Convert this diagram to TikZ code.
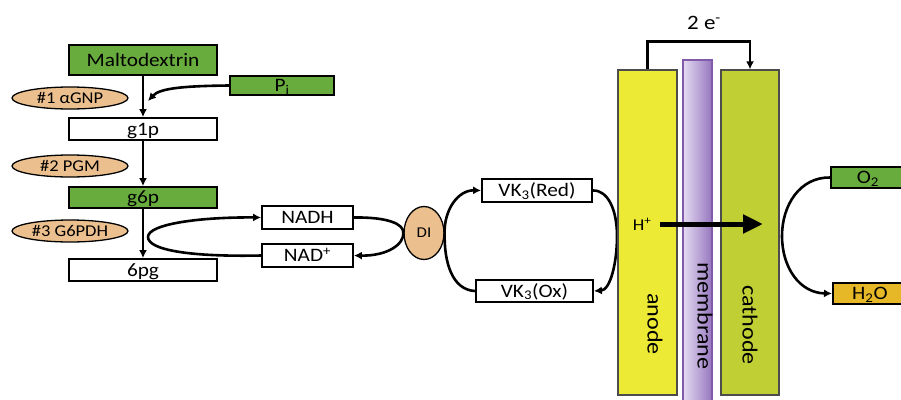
\documentclass[tikz,border=0pt]{standalone}
\usepackage{fontspec}
\setmainfont{Carlito}[FakeStretch=1.12]
\usetikzlibrary{arrows.meta,shapes.geometric}
\definecolor{mgreen}{RGB}{104,172,62}
\definecolor{enzfill}{RGB}{236,192,142}
\definecolor{anodeY}{RGB}{236,234,52}
\definecolor{cathG}{RGB}{192,208,52}
\definecolor{waterO}{RGB}{230,184,40}
\definecolor{memL}{RGB}{228,220,242}
\definecolor{memR}{RGB}{150,118,190}
\definecolor{memD}{RGB}{130,90,170}
\newcommand\fsz[1]{\fontsize{#1pt}{#1pt}\selectfont}
\tikzset{
  wbox/.style={draw, line width=1.8pt, fill=white, inner sep=0pt, font=\fsz{19}, text depth=0pt, text height=12pt},
  gbox/.style={wbox, fill=mgreen},
  enz/.style={ellipse, draw, line width=1.3pt, fill=enzfill, minimum width=116, minimum height=22, inner sep=0pt, font=\fsz{16.5}},
  arr/.style={line width=2.6pt, -{Latex[length=8pt,width=8pt]}},
  electrode/.style={draw=black!70, line width=1.3pt, minimum width=59, minimum height=325, inner sep=0pt},
  rot/.style={rotate=-90, inner sep=0pt, font=\fsz{21.5}}
}
\begin{document}
\begin{tikzpicture}[x=1pt,y=-1pt]
\path[use as bounding box] (0,0) rectangle (901,399);
\clip (0,0) rectangle (901,399);

% left pathway
\node[gbox, minimum width=148, minimum height=30] (malto) at (143,60) {Maltodextrin};
\node[gbox, minimum width=104, minimum height=19] (pi) at (282,85.5) {P\textsubscript{i}};
\node[wbox, minimum width=148, minimum height=22] (g1p) at (143,129) {g1p};
\node[gbox, minimum width=148, minimum height=21] (g6p) at (143,197.5) {g6p};
\node[wbox, minimum width=148, minimum height=22] (pg6) at (143,270) {6pg};
\node[enz] (e1) at (70,98) {\#1 αGNP};
\node[enz] (e2) at (70,166) {\#2 PGM};
\node[enz] (e3) at (70,231) {\#3 G6PDH};

\draw[arr] (malto) -- (g1p);
\draw[arr] (g1p) -- (g6p);
\draw[arr] (g6p) -- (pg6);
\coordinate (pitip) at (148,101);
\draw[arr] (pi.west) .. controls (185,86) and (160,88) .. (pitip);

% NADH cycle
\node[wbox, minimum width=91, minimum height=23] (nadh) at (307.5,217.5) {NADH};
\node[wbox, minimum width=91, minimum height=23] (nad) at (307.5,255.5) {NAD\textsuperscript{+}};
\coordinate (loopL) at (148,237);
\draw[arr] (nad.west) .. controls (190,257) and (148,250) .. (loopL) .. controls (148,224) and (200,217) .. (nadh.west);

\node[ellipse, draw, line width=1.3pt, fill=enzfill, minimum width=40, minimum height=53, inner sep=0pt, font=\fsz{15}] (di) at (424,233) {DI};
\draw[arr] (nadh.east) .. controls (388,217) and (404,224) .. (di.west) .. controls (404,244) and (388,256) .. (nad.east);

% VK3 cycle
\node[wbox, minimum width=110, minimum height=23] (vkr) at (537,190.5) {VK\textsubscript{3}(Red)};
\node[wbox, minimum width=117, minimum height=22] (vko) at (534.5,291) {VK\textsubscript{3}(Ox)};
\draw[arr] (vko.west) .. controls (452,290) and (444,262) .. (di.east) .. controls (444,210) and (458,190) .. (vkr.west);
\coordinate (vkR) at (617,236);
\draw[arr] (vkr.east) .. controls (608,190) and (617,210) .. (vkR) .. controls (617,264) and (610,290) .. (vko.east);

% fuel cell
\node[electrode, fill=anodeY] (anode) at (647.5,232.5) {};
\node[draw=memD, line width=1.3pt, left color=memL, right color=memR, minimum width=29, minimum height=360, inner sep=0pt] (memb) at (697.5,240) {};
\node[electrode, fill=cathG, minimum width=58] (cathode) at (750,232.5) {};
\node[rot] (tanode) at (655,324) {anode};
\node[rot] (tmemb) at (705,316) {membrane};
\node[rot] (tcath) at (750,325) {cathode};

\node[font=\fsz{20.5}] (elbl) at (704,23) {2 e\textsuperscript{-}};
\draw[arr] (anode.north) -- ++(0,-28) -| (cathode.north);

\node[font=\fsz{16.5}, inner sep=0pt] (hp) at (642,224) {H\textsuperscript{+}};
\coordinate (hs) at (660,224);
\coordinate (he) at (763,224);
\draw[line width=5pt, -{Triangle[length=20pt,width=18pt]}] (hs) -- (he);

% O2 / H2O
\node[gbox, minimum width=74, minimum height=21, anchor=west] (o2) at (830,177.5) {O\textsubscript{2}};
\node[wbox, fill=waterO, minimum width=74, minimum height=21, anchor=west] (h2o) at (832,293.5) {H\textsubscript{2}O};
\coordinate (oL) at (782,236);
\draw[arr] (o2.west) .. controls (800,177) and (782,205) .. (oL) .. controls (782,268) and (800,293) .. (h2o.west);
\end{tikzpicture}
\end{document}
